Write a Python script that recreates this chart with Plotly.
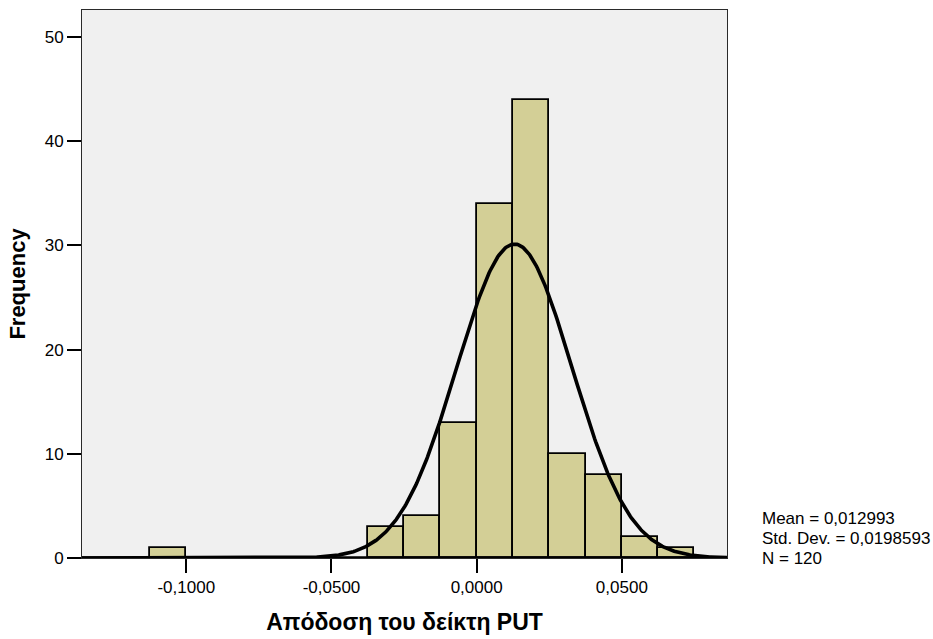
import numpy as np
import plotly.graph_objects as go

# Histogram bins (left edges) and counts
bin_width = 0.0125
bin_left = [-0.1125, -0.0375, -0.025, -0.0125, 0.0, 0.0125, 0.025, 0.0375, 0.05, 0.0625]
counts = [1, 3, 4, 13, 34, 44, 10, 8, 2, 1]

# Summary statistics
mean = 0.012993
std_dev = 0.0198593
n_obs = 120

# Axis ticks
x_tickvals = [-0.1, -0.05, 0.0, 0.05]
x_ticktext = ["-0,1000", "-0,0500", "0,0000", "0,0500"]
y_tickvals = [0, 10, 20, 30, 40, 50]
y_ticktext = ["0", "10", "20", "30", "40", "50"]

x_range = [-0.1359, 0.0862]
y_range = [0, 52.6]

FONT = "Liberation Sans, Arial, sans-serif"

centers = [b + bin_width / 2 for b in bin_left]

# Fitted normal curve scaled to counts per bin
xc = np.linspace(x_range[0], x_range[1], 600)
yc = n_obs * bin_width / (std_dev * np.sqrt(2 * np.pi)) * np.exp(-0.5 * ((xc - mean) / std_dev) ** 2)

fig = go.Figure()
fig.add_trace(go.Bar(
    x=centers, y=counts, width=bin_width,
    marker=dict(color="#d3cf96", line=dict(color="#000000", width=1.8)),
    hoverinfo="x+y",
))
fig.add_trace(go.Scatter(
    x=xc, y=yc, mode="lines",
    line=dict(color="#000000", width=3.6),
    hoverinfo="skip",
))

# Heavy baseline where the curve runs along zero
fig.add_shape(
    type="line", xref="paper", x0=0, x1=1, yref="y", y0=0, y1=0,
    line=dict(color="#000000", width=3.4), layer="above",
)

fig.update_layout(
    width=933, height=639,
    margin=dict(l=82, r=206, t=10, b=81),
    paper_bgcolor="#ffffff",
    plot_bgcolor="#f0f0f0",
    showlegend=False,
    bargap=0,
    font=dict(family=FONT, size=17, color="#000000"),
    xaxis=dict(
        range=x_range, tickvals=x_tickvals, ticktext=x_ticktext,
        ticks="outside", ticklen=14, tickwidth=2, tickcolor="#000000",
        showgrid=False, zeroline=False, automargin=False,
        showline=True, linecolor="#2a2a2a", linewidth=1, mirror=True,
        tickfont=dict(size=17),
        title=dict(text="<b>Απόδοση του δείκτη PUT</b>", font=dict(size=23), standoff=17),
    ),
    yaxis=dict(
        range=y_range, tickvals=y_tickvals, ticktext=y_ticktext,
        ticks="outside", ticklen=14, tickwidth=2, tickcolor="#000000",
        showgrid=False, zeroline=False, automargin=False,
        showline=True, linecolor="#2a2a2a", linewidth=1, mirror=True,
        tickfont=dict(size=17),
        title=dict(text="<b>Frequency</b>", font=dict(size=22), standoff=12),
    ),
)

stats_lines = [
    "Mean = 0,012993",
    "Std. Dev. = 0,0198593",
    "N = " + str(n_obs),
]
stats_y = [0.0713, 0.0347, -0.0018]
for txt, yy in zip(stats_lines, stats_y):
    fig.add_annotation(
        text=txt, xref="paper", yref="paper", x=1.0512, y=yy,
        xanchor="left", yanchor="middle", showarrow=False,
        font=dict(size=17, family=FONT, color="#000000"),
    )

fig.write_html("out.html")
